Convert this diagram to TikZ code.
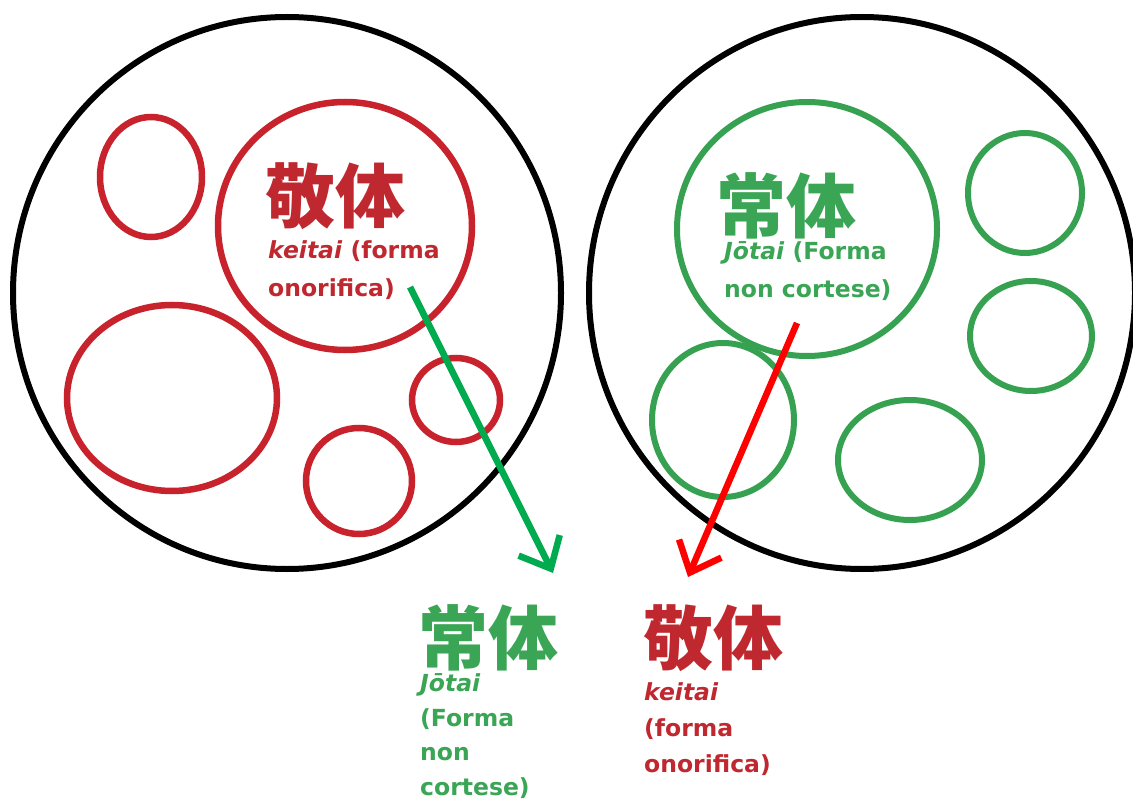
\documentclass[tikz,border=0pt]{standalone}
\usepackage{fontspec}
\setmainfont{DejaVu Sans}
\newfontfamily\cjk{Noto Sans CJK JP}
\usetikzlibrary{shapes.geometric,arrows.meta}
\definecolor{kred}{HTML}{C8232C}
\definecolor{kredtxt}{HTML}{C0282F}
\definecolor{jgreen}{HTML}{36A150}
\definecolor{jgreentxt}{HTML}{3AA555}
\definecolor{agreen}{HTML}{00AA4E}
\definecolor{ared}{HTML}{FF0000}
\tikzset{
  big/.style={draw=black,line width=6pt,ellipse,inner sep=0pt},
  rring/.style={draw=kred,line width=6.5pt,ellipse,inner sep=0pt},
  gring/.style={draw=jgreen,line width=6pt,ellipse,inner sep=0pt},
  kanji/.style={inner sep=0pt,font=\cjk\bfseries\fontsize{70}{70}\selectfont},
  lbl/.style={inner sep=0pt,anchor=base west,align=left,font=\bfseries\fontsize{23.5}{38}\selectfont},
  arr/.style={line width=6.5pt,-{Straight Barb[length=26pt,width=46pt]}},
}
\begin{document}
\begin{tikzpicture}[x=1pt,y=-1pt]
\fill[white] (0,0) rectangle (1133,805);
\useasboundingbox (0,0) rectangle (1133,805);
% big circles
\node[big,minimum width=548pt,minimum height=552pt] (L) at (287,293) {};
\node[big,minimum width=546pt,minimum height=552pt] (R) at (862,293) {};
% red rings
\node[rring,minimum width=102pt,minimum height=120pt] (r1) at (151,177) {};
\node[rring,minimum width=254pt,minimum height=248pt] (r2) at (345,226) {};
\node[rring,minimum width=210pt,minimum height=186pt] (r3) at (172,398) {};
\node[rring,minimum width=106pt,minimum height=106pt] (r4) at (359,481) {};
\node[rring,minimum width=88pt,minimum height=84pt] (r5) at (456,400) {};
% green rings
\node[gring,minimum width=260pt,minimum height=254pt] (g1) at (807,229) {};
\node[gring,minimum width=114pt,minimum height=120pt] (g2) at (1025,193) {};
\node[gring,minimum width=122pt,minimum height=110pt] (g3) at (1031,336) {};
\node[gring,minimum width=144pt,minimum height=120pt] (g4) at (910,460) {};
\node[gring,minimum width=142pt,minimum height=154pt] (g5) at (723,420) {};
% texts in circles
\node[kanji,text=kredtxt] (k1) at (335,196) {敬体};
\node[lbl,text=kredtxt] (k1t) at (268,297) {\textit{keitai} (forma\\onorifica)};
\node[kanji,text=jgreentxt] (j1) at (786,206) {常体};
\node[lbl,text=jgreentxt] (j1t) at (724,298) {\textit{Jōtai} (Forma\\non cortese)};
% bottom texts
\node[kanji,text=jgreentxt] (j2) at (488,638) {常体};
\node[lbl,text=jgreentxt,font=\bfseries\fontsize{23.5}{34.5}\selectfont] (j2t) at (420,795) {\textit{Jōtai}\\(Forma\\non\\cortese)};
\node[kanji,text=kredtxt] (k2) at (713,638) {敬体};
\node[lbl,text=kredtxt,font=\bfseries\fontsize{23.5}{36}\selectfont] (k2t) at (644,772) {\textit{keitai}\\(forma\\onorifica)};
% arrows
\coordinate (ga) at (410,287);
\coordinate (gb) at (553,573);
\coordinate (ra) at (797,323);
\coordinate (rb) at (688,577);
\draw[arr,agreen] (ga) -- (gb);
\draw[arr,ared] (ra) -- (rb);
\end{tikzpicture}
\end{document}
